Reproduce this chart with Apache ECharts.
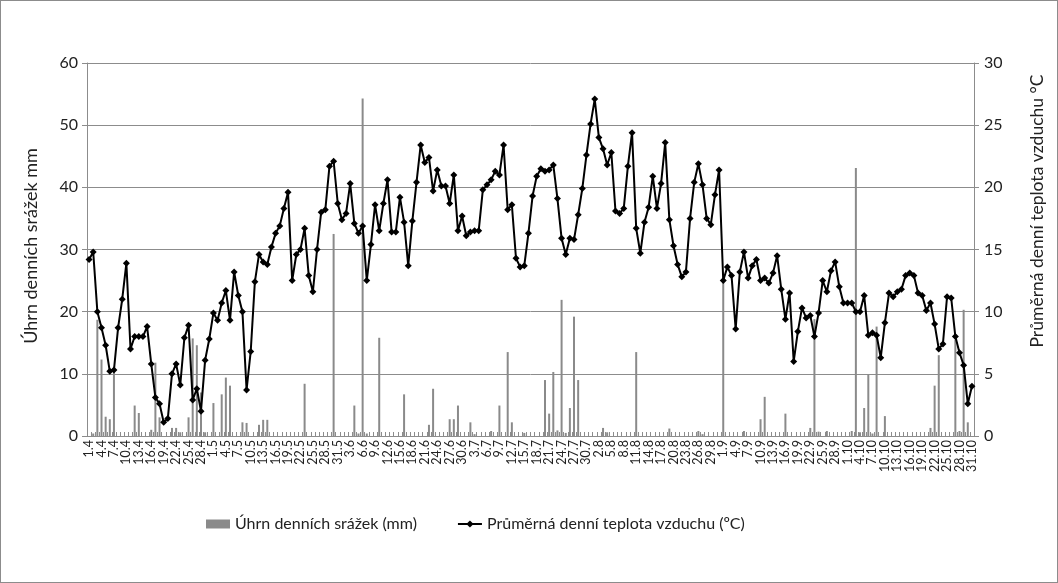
<!DOCTYPE html>
<html>
<head>
<meta charset="utf-8">
<script src="https://cdn.jsdelivr.net/npm/echarts@6/dist/echarts.min.js"></script>
<style>
html,body{margin:0;padding:0;background:#fff;}
#c{width:1058px;height:583px;box-sizing:border-box;border:1px solid #8c8c8c;}
</style>
</head>
<body>
<div id="c"></div>
<script>
// Month lengths April..October and month numbers, used to build the day labels
const monthNums = [4, 5, 6, 7, 8, 9, 10];
const monthDays = [30, 31, 30, 31, 31, 30, 31];
const categories = [];
monthNums.forEach((m, k) => { for (let d = 1; d <= monthDays[k]; d++) categories.push(d + '.' + m); });
const labelStep = 3; // every third day is labelled

// Daily mean air temperature (°C), 1.4 – 31.10
const temperature = [
14.2,14.8,10.0,8.7,7.3,5.2,5.3,8.7,11.0,13.9,
7.0,8.0,8.0,8.0,8.8,5.8,3.1,2.6,1.1,1.4,
5.0,5.8,4.1,7.9,8.9,2.9,3.8,2.0,6.1,7.8,
9.9,9.3,10.7,11.7,9.3,13.2,11.3,10.0,3.7,6.8,
12.4,14.6,14.0,13.8,15.2,16.3,16.9,18.3,19.6,12.5,
14.6,15.0,16.7,12.9,11.6,15.0,18.0,18.2,21.7,22.1,
18.7,17.4,17.9,20.3,17.1,16.3,16.9,12.5,15.4,18.6,
16.5,18.7,20.6,16.4,16.4,19.2,17.2,13.7,17.3,20.4,
23.4,22.0,22.4,19.7,21.4,20.1,20.1,18.7,21.0,16.5,
17.7,16.1,16.4,16.5,16.5,19.8,20.2,20.6,21.3,21.0,
23.4,18.2,18.6,14.3,13.6,13.7,16.3,19.3,20.9,21.5,
21.3,21.4,21.8,19.1,15.9,14.6,15.9,15.8,17.8,19.9,
22.6,25.1,27.1,24.0,23.1,21.8,22.8,18.1,17.9,18.3,
21.7,24.4,16.7,14.7,17.2,18.4,20.9,18.3,20.3,23.6,
17.4,15.3,13.8,12.8,13.2,17.5,20.4,21.9,20.2,17.5,
17.0,19.4,21.4,12.5,13.6,12.9,8.6,13.2,14.8,12.7,
13.7,14.2,12.5,12.7,12.3,13.1,14.5,11.8,9.4,11.5,
6.0,8.4,10.3,9.5,9.7,8.0,9.9,12.5,11.6,13.3,
14.0,12.0,10.7,10.7,10.7,10.0,10.0,11.3,8.1,8.3,
8.1,6.3,9.1,11.5,11.2,11.6,11.8,12.9,13.1,12.9,
11.5,11.3,10.1,10.7,9.0,7.0,7.4,11.2,11.1,8.0,
6.7,5.7,2.6,4.0
];

// Daily precipitation totals (mm), 1.4 – 31.10
const precipitation = [
0,0.4,18.7,12.3,3.1,2.7,10.6,0,0,0,
0,4.9,3.7,0,0,1.0,11.8,3.0,0,0,
1.3,1.3,0.6,0,3.0,15.7,14.6,7.0,0.6,0,
5.3,0,6.7,9.4,8.1,0,0,2.2,2.1,0,
0,1.8,2.6,2.6,0,0,0,0,0,0,
0,0,8.4,0,0,0,0,0,0,32.5,
0,0,0,0,4.9,0.4,54.3,0.4,0,0,
15.8,0,0,0,0,0,6.7,0,0,0,
0,0,1.8,7.6,0,0,0,2.7,2.7,4.9,
0,0,2.2,0.3,0,0,0,0.8,0,4.9,
0,13.5,2.2,0,0,0.5,0,0,0,0,
9.0,3.6,10.3,0.9,21.9,0.5,4.5,19.2,9.0,0,
0,0,0,0,1.3,0.6,0,0,0,0,
0,0,13.5,0,0,0,0,0,0,0,
1.2,0,0,0,0,0,0,0.8,0.3,0,
0,0,0,24.9,0,0,0,0,0.8,0,
0,0,2.7,6.3,0,0,0,0,3.6,0,
0,0,0,0,1.3,18.8,0.7,0,0.8,0,
0,0,0,0,0.8,43.1,0.6,4.5,9.9,0.4,
17.6,0,3.2,0,0,0,0,0,0,0,
0,0,0,1.3,8.1,13.0,0,0,0,15.5,
0.8,20.3,2.2,0
];

const leftTicks = [0, 60, 10];   // min, max, interval (mm)
const rightTicks = [0, 30, 5];   // min, max, interval (°C)

const FONT = 'Lato, "Open Sans", sans-serif';
const chart = echarts.init(document.getElementById('c'));
chart.setOption({
  animation: false,
  textStyle: { fontFamily: FONT },
  grid: { left: 86, right: 83, top: 62, bottom: 146 },
  legend: {
    left: 200, top: 510,
    itemWidth: 24, itemHeight: 9, itemGap: 40,
    textStyle: { fontSize: 16, color: '#222', fontFamily: FONT },
    data: [
      { name: 'Úhrn denních srážek (mm)', icon: 'rect' },
      { name: 'Průměrná denní teplota vzduchu (ºC)' }
    ]
  },
  xAxis: {
    type: 'category',
    data: categories,
    boundaryGap: true,
    axisLine: { lineStyle: { color: '#8c8c8c', width: 1 } },
    axisTick: { show: true, interval: 0, inside: true, length: 4, lineStyle: { color: '#8c8c8c' } },
    axisLabel: { interval: 0, rotate: 90, fontSize: 12.5, color: '#222', margin: 4, fontFamily: FONT,
                 hideOverlap: false,
                 formatter: (v, i) => (i % labelStep === 0 ? v : '') }
  },
  yAxis: [
    {
      type: 'value', min: leftTicks[0], max: leftTicks[1], interval: leftTicks[2],
      axisLine: { show: true, lineStyle: { color: '#8c8c8c' } },
      axisTick: { show: true, length: 5, lineStyle: { color: '#8c8c8c' } },
      axisLabel: { fontSize: 16, color: '#222', margin: 9, fontFamily: FONT },
      splitLine: { lineStyle: { color: '#8c8c8c', width: 1 } }
    },
    {
      type: 'value', min: rightTicks[0], max: rightTicks[1], interval: rightTicks[2],
      position: 'right',
      axisLine: { show: true, lineStyle: { color: '#8c8c8c' } },
      axisTick: { show: true, length: 5, lineStyle: { color: '#8c8c8c' } },
      axisLabel: { fontSize: 16, color: '#222', margin: 10, fontFamily: FONT },
      splitLine: { show: false }
    }
  ],
  graphic: [
    { type: 'text', x: 30, y: 245, rotation: Math.PI / 2,
      style: { text: 'Úhrn denních srážek mm', font: '18px ' + FONT, fill: '#222', textAlign: 'center', textVerticalAlign: 'middle' } },
    { type: 'text', x: 1036, y: 210, rotation: Math.PI / 2,
      style: { text: 'Průměrná denní teplota vzduchu °C', font: '17.5px ' + FONT, fill: '#222', textAlign: 'center', textVerticalAlign: 'middle' } }
  ],
  series: [
    {
      name: 'Úhrn denních srážek (mm)',
      type: 'bar', yAxisIndex: 0,
      data: precipitation,
      barWidth: 2,
      itemStyle: { color: '#8a8a8a' }
    },
    {
      name: 'Průměrná denní teplota vzduchu (ºC)',
      type: 'line', yAxisIndex: 1,
      data: temperature,
      showAllSymbol: true,
      symbol: 'diamond', symbolSize: 7,
      lineStyle: { color: '#000', width: 2 },
      itemStyle: { color: '#000' }
    }
  ]
});
</script>
</body>
</html>
